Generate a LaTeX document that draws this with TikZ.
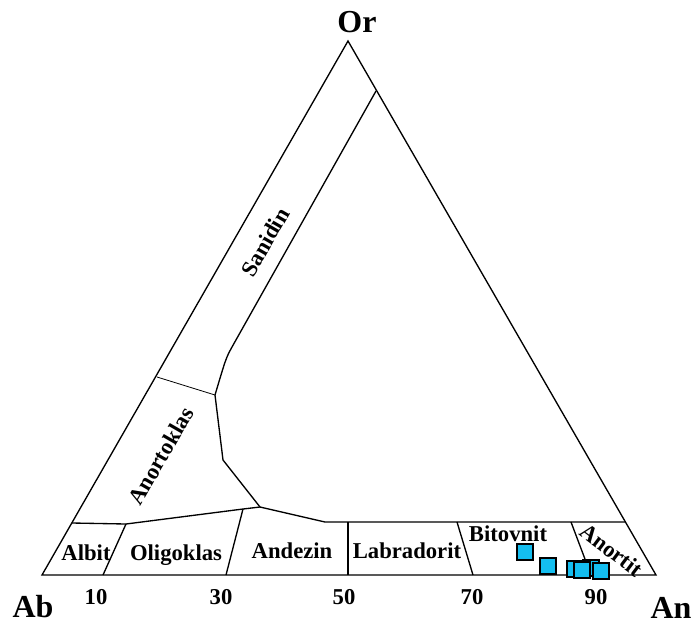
\documentclass[tikz,border=0pt]{standalone}
\usepackage{fontspec}
\setmainfont{Liberation Serif}
\usetikzlibrary{calc}
\definecolor{samplecyan}{RGB}{20,190,240}

\begin{document}
\begin{tikzpicture}[x=0.75pt,y=-0.75pt,line width=1pt,
  field/.style={font=\bfseries\fontsize{17}{19}\selectfont,inner sep=0pt},
  corner/.style={font=\bfseries\fontsize{24}{27}\selectfont,inner sep=0pt},
  sample/.style={draw=black,line width=0.8pt,fill=samplecyan,minimum size=12pt,inner sep=0pt}]
\useasboundingbox (0,0) rectangle (692,626);

% triangle corners
\coordinate (Ab) at (42,575);
\coordinate (An) at (656,575);
\coordinate (Or) at (348,41);
\draw (Ab) -- (An) -- (Or) -- cycle;

% sanidin / anortoklas boundary
\coordinate (S1) at (376,91);
\coordinate (S2) at (232,347);
\coordinate (S3) at (215,395);
\coordinate (S4) at (223,460);
\coordinate (S5) at (260,507);
\coordinate (K1) at (157,377);
\draw (S1) -- (S2) .. controls (226,358) .. (S3) -- (S4) -- (S5);
\draw[line width=0.6pt] (K1) -- (S3);

% plagioclase band
\coordinate (P0) at (72,523);
\coordinate (P1) at (126,524);
\coordinate (P2) at (243,509);
\coordinate (P3) at (325,522);
\coordinate (P4) at (625,522);
\draw (P0) -- (P1) -- (P2) -- (S5) -- (P3) -- (P4);

\coordinate (Q1) at (103,575);
\coordinate (Q2) at (226,575);
\coordinate (Q3) at (348,575);
\coordinate (Q4) at (473,575);
\coordinate (Q5) at (591,575);
\coordinate (R3) at (348,522);
\coordinate (R4) at (457,522);
\coordinate (R5) at (571,522);
\draw (P1) -- (Q1);
\draw (P2) -- (Q2);
\draw (R3) -- (Q3);
\draw (R4) -- (Q4);
\draw (R5) -- (Q5);

% field names
\node[field,anchor=base] (albit) at (86,560) {Albit};
\node[field,anchor=base] (oligoklas) at (176,560) {Oligoklas};
\node[field,anchor=base] (andezin) at (292,558) {Andezin};
\node[field,anchor=base] (labradorit) at (407,558) {Labradorit};
\node[field,anchor=base] (bitovnit) at (508,541) {Bitovnit};
\node[field,rotate=-37] (anortit) at (612,550) {Anortit};
\node[field,rotate=60] (sanidin) at (265,242) {Sanidin};
\node[field,rotate=60] (anortoklas) at (161,456) {Anortoklas};

% axis
\node[field,anchor=base] (n10) at (96,604) {10};
\node[field,anchor=base] (n30) at (221,604) {30};
\node[field,anchor=base] (n50) at (344,604) {50};
\node[field,anchor=base] (n70) at (472,604) {70};
\node[field,anchor=base] (n90) at (596,604) {90};
\node[corner,anchor=base] (ab) at (33,617) {Ab};
\node[corner,anchor=base] (an) at (671,618) {An};
\node[corner,anchor=base] (or) at (357,32) {Or};

% samples
\node[sample] (s1) at (525,552) {};
\node[sample] (s2) at (548,566) {};
\node[sample] (s3) at (575,569) {};
\node[sample] (s4) at (591,568) {};
\node[sample] (s5) at (582,570) {};
\node[sample] (s6) at (601,571) {};

\end{tikzpicture}
\end{document}
